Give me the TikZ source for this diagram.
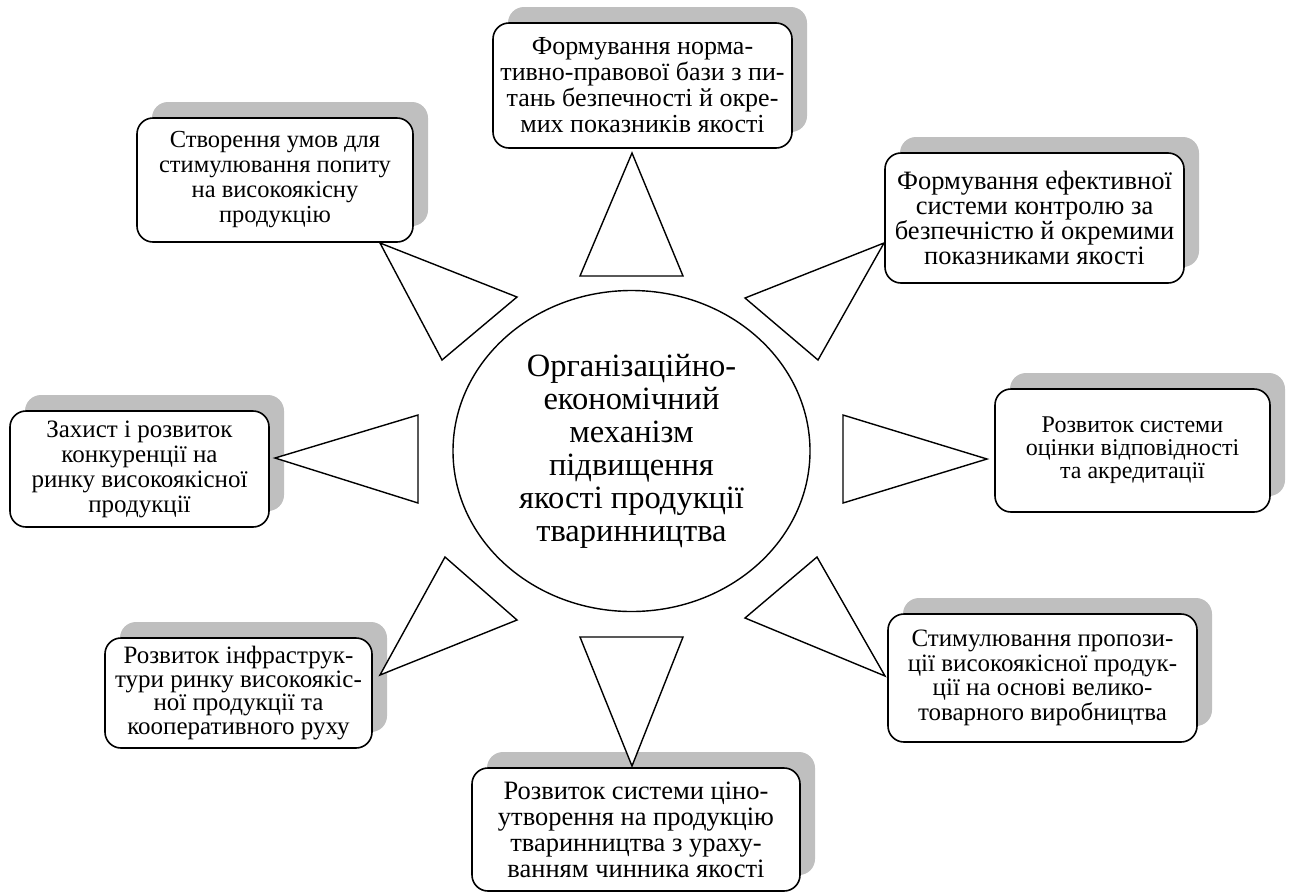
\documentclass[tikz,border=0pt]{standalone}
\usepackage{fontspec}
\setmainfont{Liberation Serif}
\usetikzlibrary{shapes.geometric,shadows}
\definecolor{shadowgray}{RGB}{191,191,191}
\tikzset{
  boxnode/.style={draw=black, line width=1.6pt, fill=white, rounded corners=16pt,
    align=center, inner sep=2pt, font=\fontsize{26}{26}\selectfont,
    drop shadow={shadow xshift=15pt, shadow yshift=16pt, fill=shadowgray, opacity=1}},
  hubnode/.style={draw=black, line width=1.4pt, ellipse, inner sep=0pt, align=center,
    font=\fontsize{32.5}{33}\selectfont},
  pointer/.style={draw=black, line width=1.4pt, fill=white, line join=miter}
}
\begin{document}
\begin{tikzpicture}[x=1pt,y=-1pt]
\useasboundingbox (0,0) rectangle (1290,892);

% central ellipse
\node[hubnode, minimum width=357pt, minimum height=321pt] (hub) at (631.5,451)
  {Організаційно-\\економічний\\механізм\\підвищення\\якості продукції\\тваринництва};

% boxes
\node[boxnode, minimum width=299pt, minimum height=125pt,
      font=\fontsize{26}{26}\selectfont] (top) at (642.5,85.5)
  {Формування норма-\\тивно-правової бази з пи-\\тань безпечності й окре-\\мих показників якості};
\node[boxnode, minimum width=276pt, minimum height=124pt,
      font=\fontsize{24.5}{25}\selectfont] (nw) at (275,180)
  {Створення умов для\\стимулювання попиту\\на високоякісну\\продукцію};
\node[boxnode, minimum width=299pt, minimum height=130pt,
      font=\fontsize{26.5}{25}\selectfont] (ne) at (1034.5,218)
  {Формування ефективної\\системи контролю за\\безпечністю й окремими\\показниками якості};
\node[boxnode, minimum width=275pt, minimum height=123pt,
      font=\fontsize{24}{23}\selectfont] (east) at (1132.5,450.5)
  {Розвиток системи\\оцінки відповідності\\та акредитації};
\node[boxnode, minimum width=259pt, minimum height=116pt,
      font=\fontsize{25}{25}\selectfont] (west) at (139.5,469)
  {Захист і розвиток\\конкуренції на\\ринку високоякісної\\продукції};
\node[boxnode, minimum width=267pt, minimum height=110pt,
      font=\fontsize{25}{23.5}\selectfont] (sw) at (238.5,693)
  {Розвиток інфраструк-\\тури ринку високоякіс-\\ної продукції та\\кооперативного руху};
\node[boxnode, minimum width=328pt, minimum height=123pt,
      font=\fontsize{26.5}{26}\selectfont] (south) at (636,829.5)
  {Розвиток системи ціно-\\утворення на продукцію\\тваринництва з ураху-\\ванням чинника якості};
\node[boxnode, minimum width=309pt, minimum height=128pt,
      font=\fontsize{25}{24.5}\selectfont] (se) at (1042.5,678)
  {Стимулювання пропози-\\ції високоякісної продук-\\ції на основі велико-\\товарного виробництва};

% pointer triangles (apex touches the box)
\coordinate (tT) at (632,153);
\coordinate (tNW) at (380,243);
\coordinate (tNE) at (884,243);
\coordinate (tE) at (987,459);
\coordinate (tW) at (275,458);
\coordinate (tSW) at (380,675);
\coordinate (tS) at (632,766);
\coordinate (tSE) at (885,676);

\draw[pointer] (tT) -- (580,276) -- (683,276) -- cycle;
\draw[pointer] (tNW) -- (517,297) -- (442,360) -- cycle;
\draw[pointer] (tNE) -- (745,298) -- (818,360) -- cycle;
\draw[pointer] (tE) -- (843,415) -- (843,503) -- cycle;
\draw[pointer] (tW) -- (418,415) -- (418,503) -- cycle;
\draw[pointer] (tSW) -- (445,557) -- (517,620) -- cycle;
\draw[pointer] (tS) -- (580,637) -- (683,637) -- cycle;
\draw[pointer] (tSE) -- (817,557) -- (745,618) -- cycle;
\end{tikzpicture}
\end{document}
